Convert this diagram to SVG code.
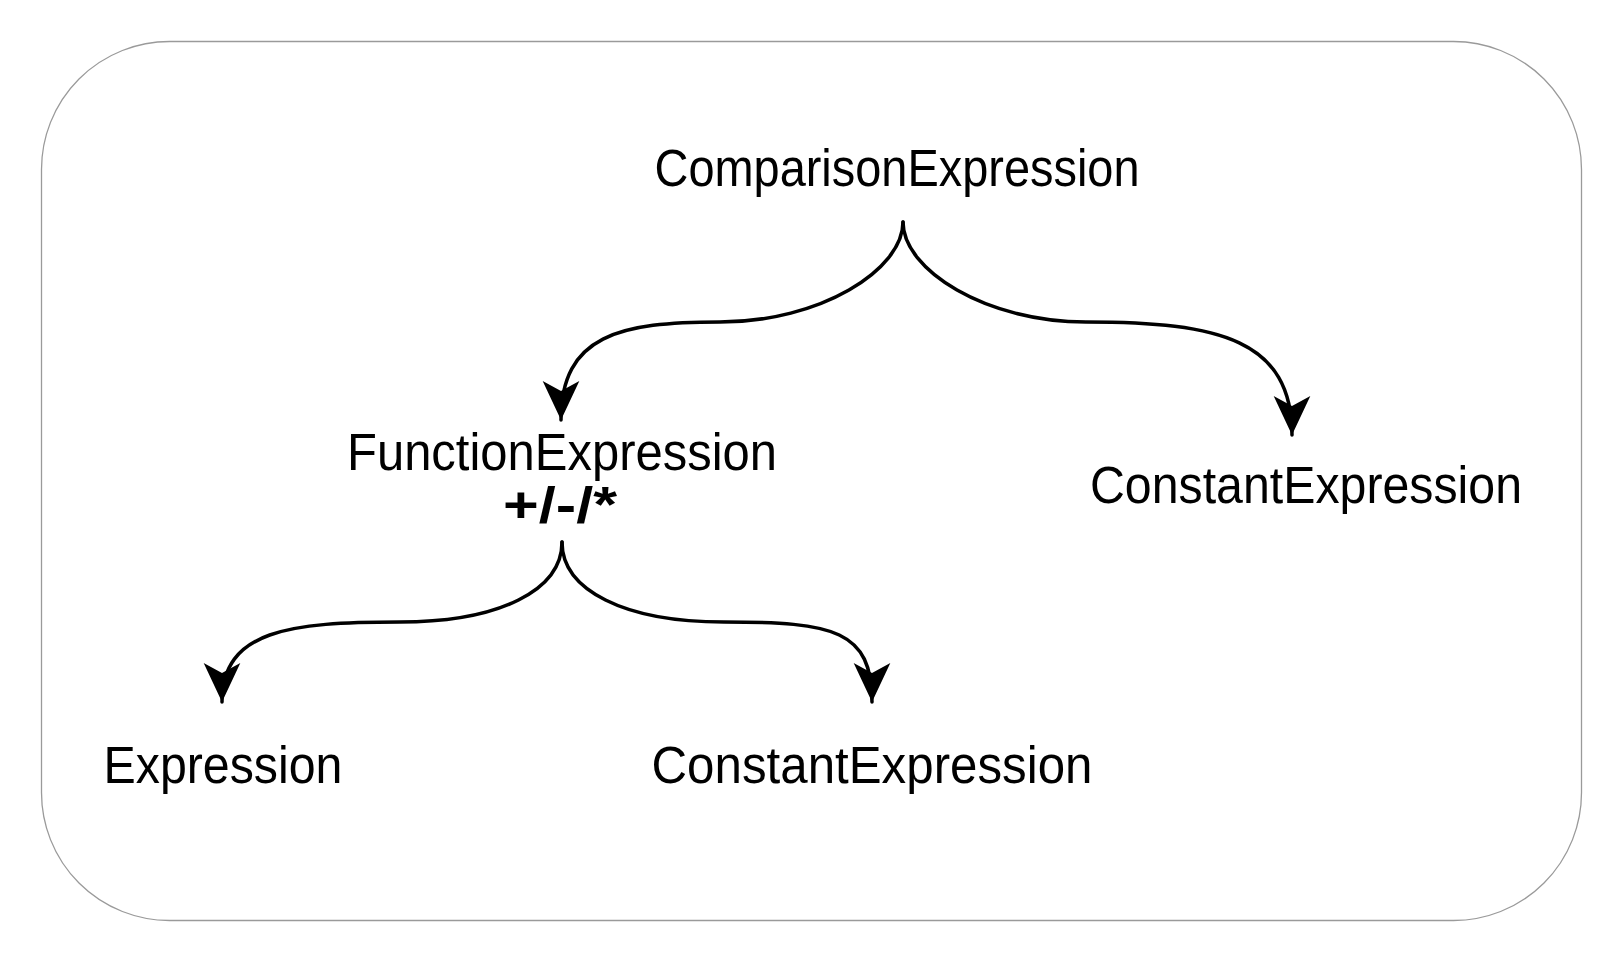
<svg xmlns="http://www.w3.org/2000/svg" width="1620" height="960" viewBox="0 0 1620 960">
  <style>
    .lbl { font-family: "Liberation Sans", Arial, sans-serif; font-size: 51px; fill: #000; text-anchor: middle; }
    .op { font-family: "Liberation Sans", Arial, sans-serif; font-size: 50px; font-weight: bold; fill: #000; text-anchor: middle; }
    .edge { fill: none; stroke: #000; stroke-width: 3.5; stroke-linecap: round; }
  </style>
  <defs>
    <marker id="arrow" markerUnits="userSpaceOnUse" markerWidth="40" markerHeight="40" viewBox="0 0 36 34" refX="35" refY="16.5" orient="auto">
      <path d="M0,0 L35,16.5 L0,33 L9,16.5 Z" fill="#000"/>
    </marker>
  </defs>
  <rect x="41.5" y="41.5" width="1540" height="879" rx="128" ry="128" fill="#fff" stroke="#9a9a9a" stroke-width="1.3"/>
  <g id="connectors">
    <path class="edge" d="M903,222 C903,270 820,322 720,322 C620,322 561,335 561,420" marker-end="url(#arrow)"/>
    <path class="edge" d="M903,222 C903,270 986,322 1086,322 C1220,322 1292,340 1292,435" marker-end="url(#arrow)"/>
    <path class="edge" d="M562,542 C562,590 500,622 400,622 C290,622 222,630 222,702" marker-end="url(#arrow)"/>
    <path class="edge" d="M562,542 C562,590 624,622 724,622 C834,622 872,630 872,702" marker-end="url(#arrow)"/>
  </g>
  <g id="node-comparison">
    <text class="lbl" x="897" y="186" textLength="485" lengthAdjust="spacingAndGlyphs">ComparisonExpression</text>
  </g>
  <g id="node-function">
    <text class="lbl" x="562" y="470" textLength="430" lengthAdjust="spacingAndGlyphs">FunctionExpression</text>
    <text class="op" x="560" y="522" textLength="114" lengthAdjust="spacingAndGlyphs">+/-/*</text>
  </g>
  <g id="node-constant-right">
    <text class="lbl" x="1306" y="503" textLength="432" lengthAdjust="spacingAndGlyphs">ConstantExpression</text>
  </g>
  <g id="node-expression">
    <text class="lbl" x="223" y="783" textLength="239" lengthAdjust="spacingAndGlyphs">Expression</text>
  </g>
  <g id="node-constant-bottom">
    <text class="lbl" x="872" y="783" textLength="441" lengthAdjust="spacingAndGlyphs">ConstantExpression</text>
  </g>
</svg>
